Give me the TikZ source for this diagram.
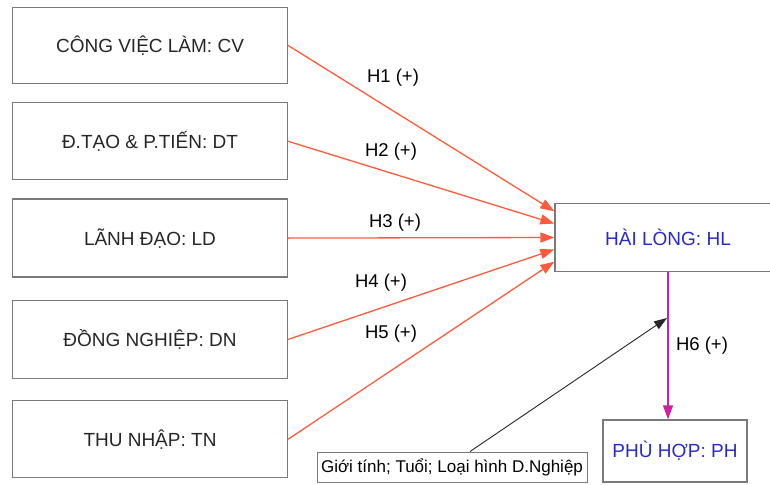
\documentclass[tikz,border=0pt]{standalone}
\usepackage{fontspec}
\setmainfont{Liberation Sans}
\usetikzlibrary{arrows.meta,positioning}
\definecolor{boxgray}{HTML}{7A7A7A}
\definecolor{hred}{HTML}{FF5A3C}
\definecolor{hblue}{HTML}{2A2AC8}
\definecolor{hmag}{HTML}{D0209C}
\begin{document}
\begin{tikzpicture}[x=1pt,y=-1pt,font=\fontsize{19}{22}\selectfont]
\useasboundingbox (0,0) rectangle (770,484);
\node[draw=boxgray,line width=1.3pt,text=black!85,minimum width=275pt,minimum height=76pt] (cv) at (150,45.5) {CÔNG VIỆC LÀM: CV};
\node[draw=boxgray,line width=1.3pt,text=black!85,minimum width=275pt,minimum height=77pt,below=18pt of cv] (dt) {Đ.TẠO \& P.TIẾN: DT};
\node[draw=boxgray,line width=1.3pt,text=black!85,minimum width=275pt,minimum height=78pt,below=18pt of dt] (ld) {LÃNH ĐẠO: LD};
\node[draw=boxgray,line width=1.3pt,text=black!85,minimum width=275pt,minimum height=78pt,below=22pt of ld] (dn) {ĐỒNG NGHIỆP: DN};
\node[draw=boxgray,line width=1.3pt,text=black!85,minimum width=275pt,minimum height=77pt,below=21pt of dn] (tn) {THU NHẬP: TN};
\node[draw=boxgray,line width=1.3pt,text=hblue,minimum width=226pt,minimum height=68pt] (hl) at (668,237.5) {HÀI LÒNG: HL};
\node[draw=boxgray,line width=1.3pt,text=hblue,minimum width=144pt,minimum height=62pt] (ph) at (675,451) {PHÙ HỢP: PH};
\node[draw=boxgray,line width=1pt,font=\fontsize{17}{20}\selectfont,inner sep=2pt,minimum width=270pt,minimum height=30pt] (ctrl) at (452,467) {Giới tính; Tuổi; Loại hình D.Nghiệp};
\coordinate (mod) at (667,318);
% hypotheses
\draw[hred,line width=1.3pt,-{Triangle[length=14pt,width=10pt]}] (cv.east) -- (hl.167.5);
\draw[hred,line width=1.3pt,-{Triangle[length=14pt,width=10pt]}] (dt.east) -- (hl.173.7);
\draw[hred,line width=1.3pt,-{Triangle[length=14pt,width=10pt]}] (ld.east) -- (hl.west);
\draw[hred,line width=1.3pt,-{Triangle[length=14pt,width=10pt]}] (dn.east) -- (hl.186.3);
\draw[hred,line width=1.3pt,-{Triangle[length=14pt,width=10pt]}] (tn.east) -- (hl.192.5);
\draw[hmag,line width=1.3pt,-{Triangle[length=14pt,width=10pt]}] (hl.south) -- ([xshift=-7pt]ph.north);
\draw[black!85,line width=0.9pt,-{Triangle[length=13pt,width=9pt]}] ([xshift=18pt]ctrl.north) -- (mod);
\node[font=\fontsize{18.5}{22}\selectfont] (h1) at (393,78) {H1 (+)};
\node[font=\fontsize{18.5}{22}\selectfont] (h2) at (391,152) {H2 (+)};
\node[font=\fontsize{18.5}{22}\selectfont] (h3) at (395,223) {H3 (+)};
\node[font=\fontsize{18.5}{22}\selectfont] (h4) at (381,283) {H4 (+)};
\node[font=\fontsize{18.5}{22}\selectfont] (h5) at (391,334) {H5 (+)};
\node[font=\fontsize{18.5}{22}\selectfont] (h6) at (702,346) {H6 (+)};
\end{tikzpicture}
\end{document}
